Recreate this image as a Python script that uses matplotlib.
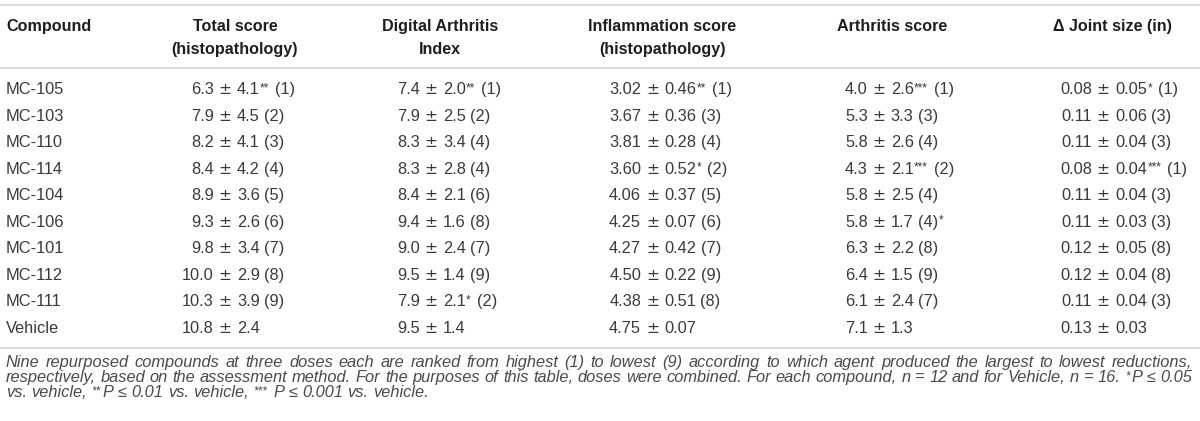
import matplotlib
matplotlib.use('Agg')
import matplotlib.pyplot as plt

plt.rcParams['font.family'] = ['Liberation Sans', 'DejaVu Sans']

compounds = ['MC-105', 'MC-103', 'MC-110', 'MC-114', 'MC-104',
             'MC-106', 'MC-101', 'MC-112', 'MC-111', 'Vehicle']

header_first = 'Compound'
headers = [['Total score', '(histopathology)'],
           ['Digital Arthritis', 'Index'],
           ['Inflammation score', '(histopathology)'],
           ['Arthritis score'],
           ['\u0394 Joint size (in)']]

# Total score (histopathology)
total_mean = [6.3, 7.9, 8.2, 8.4, 8.9, 9.3, 9.8, 10.0, 10.3, 10.8]
total_sd = [4.1, 4.5, 4.1, 4.2, 3.6, 2.6, 3.4, 2.9, 3.9, 2.4]
total_rank = [1, 2, 3, 4, 5, 6, 7, 8, 9, None]
total_sig = ['**', '', '', '', '', '', '', '', '', '']

# Digital Arthritis Index
dai_mean = [7.4, 7.9, 8.3, 8.3, 8.4, 9.4, 9.0, 9.5, 7.9, 9.5]
dai_sd = [2.0, 2.5, 3.4, 2.8, 2.1, 1.6, 2.4, 1.4, 2.1, 1.4]
dai_rank = [1, 2, 4, 4, 6, 8, 7, 9, 2, None]
dai_sig = ['**', '', '', '', '', '', '', '', '*', '']

# Inflammation score (histopathology)
infl_mean = [3.02, 3.67, 3.81, 3.60, 4.06, 4.25, 4.27, 4.50, 4.38, 4.75]
infl_sd = [0.46, 0.36, 0.28, 0.52, 0.37, 0.07, 0.42, 0.22, 0.51, 0.07]
infl_rank = [1, 3, 4, 2, 5, 6, 7, 9, 8, None]
infl_sig = ['**', '', '', '*', '', '', '', '', '', '']

# Arthritis score
arth_mean = [4.0, 5.3, 5.8, 4.3, 5.8, 5.8, 6.3, 6.4, 6.1, 7.1]
arth_sd = [2.6, 3.3, 2.6, 2.1, 2.5, 1.7, 2.2, 1.5, 2.4, 1.3]
arth_rank = [1, 3, 4, 2, 4, 4, 8, 9, 7, None]
arth_sig = ['***', '', '', '***', '', '*', '', '', '', '']

# Delta joint size (in)
joint_mean = [0.08, 0.11, 0.11, 0.08, 0.11, 0.11, 0.12, 0.12, 0.11, 0.13]
joint_sd = [0.05, 0.06, 0.04, 0.04, 0.04, 0.03, 0.05, 0.04, 0.04, 0.03]
joint_rank = [1, 3, 3, 1, 3, 3, 8, 8, 3, None]
joint_sig = ['*', '', '', '***', '', '', '', '', '', '']

# MC-106 arthritis score has its star after the rank
sig_after_rank = {(3, 5)}

footnote = [
    'Nine repurposed compounds at three doses each are ranked from highest (1) to lowest (9) '
    'according to which agent produced the largest to lowest reductions,',
    'respectively, based on the assessment method. For the purposes of this table, doses were '
    'combined. For each compound, n = 12 and for Vehicle, n = 16. *P \u2264 0.05',
    'vs. vehicle, **P \u2264 0.01 vs. vehicle, *** P \u2264 0.001 vs. vehicle.',
]

columns = [
    (total_mean, total_sd, total_rank, total_sig, 1),
    (dai_mean, dai_sd, dai_rank, dai_sig, 1),
    (infl_mean, infl_sd, infl_rank, infl_sig, 2),
    (arth_mean, arth_sd, arth_rank, arth_sig, 1),
    (joint_mean, joint_sd, joint_rank, joint_sig, 2),
]

# layout (pixels)
W, H = 1200, 421
col_start = [191, 397, 609, 845, 1060]
head_center = [235, 440, 662, 892, 1112]
row_y0, row_dy = 89, 26.55
rule_y = [5, 68, 348]
foot_y = [362, 377, 392]

body_size = 11.8
head_size = 11.6
foot_size = 11.8
sup_scale = 0.72
body_color = '#3a3a3a'
head_color = '#1e1e1e'
foot_color = '#4a4a4a'
rule_color = '#dcdcdc'

fig = plt.figure(figsize=(W / 100, H / 100), dpi=100)
ax = fig.add_axes([0, 0, 1, 1])
ax.set_xlim(0, W)
ax.set_ylim(H, 0)
ax.axis('off')
renderer = fig.canvas.get_renderer()


def wid(t):
    return t.get_window_extent(renderer).width


def txt(x, y, s, size=body_size, **kw):
    kw.setdefault('color', body_color)
    return ax.text(x, y, s, fontsize=size, va='baseline', **kw)


probe_a = txt(0, 0, 'a a')
probe_b = txt(0, 0, 'aa')
space = wid(probe_a) - wid(probe_b)
probe_a.remove()
probe_b.remove()

for y in rule_y:
    ax.plot([0, W], [y, y], color=rule_color, lw=1.5, solid_capstyle='butt')

# header
txt(6, 26 + 5, header_first, size=head_size, weight='bold', color=head_color)
for c, lines in enumerate(headers):
    for k, line in enumerate(lines):
        txt(head_center[c], 26 + 23 * k + 5, line, size=head_size, weight='bold',
            color=head_color, ha='center')

# body
sup_size = body_size * sup_scale
for i, name in enumerate(compounds):
    yb = row_y0 + i * row_dy + 5
    txt(6, yb, name)
    for c, (means, sds, ranks, sigs, nd) in enumerate(columns):
        ref = txt(col_start[c], yb, f'{means[0]:.{nd}f}')
        end = col_start[c] + wid(ref)
        ref.remove()
        txt(end, yb, f'{means[i]:.{nd}f}', ha='right')
        x = end + 5
        pm = txt(x, yb, '\u00b1', family='DejaVu Sans', size=body_size * 0.95)
        x += wid(pm) + 5
        t = txt(x, yb, f'{sds[i]:.{nd}f}')
        x += wid(t)
        after = (c, i) in sig_after_rank
        if sigs[i] and not after:
            s = txt(x + 0.5, yb - 3, sigs[i], size=sup_size)
            x += wid(s) + 2
        if ranks[i] is not None:
            x += space
            t = txt(x, yb, f'({ranks[i]})')
            x += wid(t)
        if sigs[i] and after:
            txt(x + 0.5, yb - 3, sigs[i], size=sup_size)


# footnote, justified like the journal layout
def foot_line(line, y, justify):
    items = []
    for word in line.split(' '):
        stars = len(word) - len(word.lstrip('*'))
        parts = []
        if stars:
            s = txt(0, y - 3, word[:stars], size=foot_size * sup_scale,
                    style='italic', color=foot_color)
            parts.append((s, wid(s) + 1.5))
        rest = word[stars:]
        if rest:
            t = txt(0, y, rest, size=foot_size, style='italic', color=foot_color)
            parts.append((t, wid(t)))
        items.append(parts)
    total = sum(w for parts in items for _, w in parts)
    if justify:
        gap = (W - 8 - 6 - total) / (len(items) - 1)
    else:
        gap = space * foot_size / body_size
    x = 6
    for parts in items:
        for t, w in parts:
            t.set_x(x)
            x += w
        x += gap


for k, line in enumerate(footnote):
    foot_line(line, foot_y[k] + 5, justify=(k < len(footnote) - 1))

fig.savefig('out.png', dpi=100)
plt.close(fig)
